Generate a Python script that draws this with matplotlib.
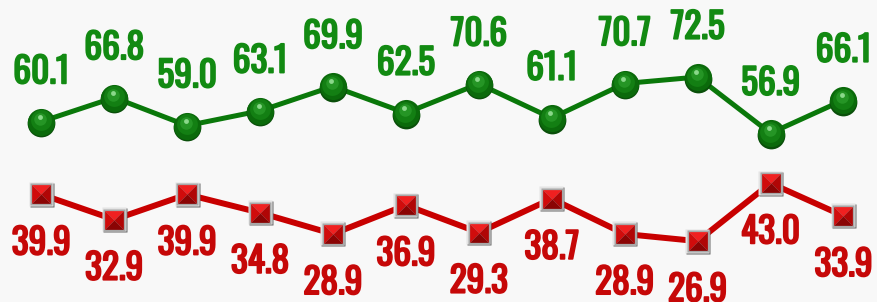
import matplotlib
matplotlib.use("Agg")
import matplotlib.pyplot as plt
from matplotlib import font_manager
from matplotlib import patheffects as pe
from matplotlib.path import Path
from matplotlib.transforms import offset_copy

green_values = [60.1, 66.8, 59.0, 63.1, 69.9, 62.5, 70.6, 61.1, 70.7, 72.5, 56.9, 66.1]
red_values = [39.9, 32.9, 39.9, 34.8, 28.9, 36.9, 29.3, 38.7, 28.9, 26.9, 43.0, 33.9]
green_labels = [f"{v:.1f}" for v in green_values]
red_labels = [f"{v:.1f}" for v in red_values]
x = list(range(len(green_values)))

names = {f.name for f in font_manager.fontManager.ttflist}
family = next((f for f in ["Oswald", "Antonio", "Roboto Condensed", "DejaVu Sans"] if f in names), "DejaVu Sans")

BG = "#f8f8f8"
GREEN_TXT = "#128a12"
RED_TXT = "#c60808"
fig = plt.figure(figsize=(8.77, 3.02), dpi=100, facecolor=BG)
ax = fig.add_axes([0, 0, 1, 1], facecolor=BG)
ax.set_xlim(-0.565, 11.46)
ax.set_ylim(10.0, 93.9)
ax.axis("off")

def off(dx, dy):
    return offset_copy(ax.transData, fig=fig, x=dx, y=dy, units="dots")

# lines
ax.plot(x, green_values, color="#0a780a", lw=3.6, zorder=2, solid_capstyle="round")
ax.plot(x, red_values, color="#c80000", lw=4.3, zorder=2, solid_capstyle="round")

# green spheres
ax.plot(x, green_values, ls="none", marker="o", ms=20, mfc="#0a4f0a", mec="none", zorder=3,
        transform=off(0, -1.5))
ax.plot(x, green_values, ls="none", marker="o", ms=19.5, mfc="#0b6a0b", mec="none", zorder=3)
ax.plot(x, green_values, ls="none", marker="o", ms=15, mfc="#137f13", mec="none", zorder=3,
        transform=off(-0.5, 1.5))
ax.plot(x, green_values, ls="none", marker="o", ms=9, mfc="#259525", mec="none", zorder=3,
        transform=off(-1, 3))
ax.plot(x, green_values, ls="none", marker="o", ms=3.5, mfc="#8ad88a", mec="none", zorder=3,
        transform=off(-1.5, 5))

# red beveled squares
tri_top = Path([(-1, 1), (1, 1), (0, 0), (-1, 1)], closed=True)
tri_bot = Path([(-1, -1), (1, -1), (0, 0), (-1, -1)], closed=True)
tri_left = Path([(-1, -1), (-1, 1), (0, 0), (-1, -1)], closed=True)
tri_right = Path([(1, -1), (1, 1), (0, 0), (1, -1)], closed=True)

ax.plot(x, red_values, ls="none", marker="s", ms=17.5, mfc="#6a6a6a", mec="none", zorder=3,
        transform=off(0.5, -0.5))
ax.plot(x, red_values, ls="none", marker="s", ms=17, mfc="#e4e4e4", mec="none", zorder=3,
        transform=off(-0.5, 0.5))
ax.plot(x, red_values, ls="none", marker="s", ms=16, mfc="#a8a8a8", mec="none", zorder=3)
for path, col in [(tri_top, "#f02020"), (tri_left, "#d00c0c"), (tri_right, "#b00606"), (tri_bot, "#8a0404")]:
    ax.plot(x, red_values, ls="none", marker=path, ms=13.5, mfc=col, mec="none", zorder=4)

# labels
for xi, v, lab in zip(x, green_values, green_labels):
    ax.annotate(lab, (xi, v), xytext=(0, 27.6), textcoords="offset points", ha="center",
                va="baseline", fontsize=25.5, fontweight="bold", color=GREEN_TXT,
                family=family, zorder=5,
                path_effects=[pe.withStroke(linewidth=1.3, foreground=GREEN_TXT)])
for xi, v, lab in zip(x, red_values, red_labels):
    ax.annotate(lab, (xi, v), xytext=(0, -43.3), textcoords="offset points", ha="center",
                va="baseline", fontsize=25.5, fontweight="bold", color=RED_TXT,
                family=family, zorder=5,
                path_effects=[pe.withStroke(linewidth=1.3, foreground=RED_TXT)])

fig.savefig("out.png", dpi=100, facecolor=BG)
